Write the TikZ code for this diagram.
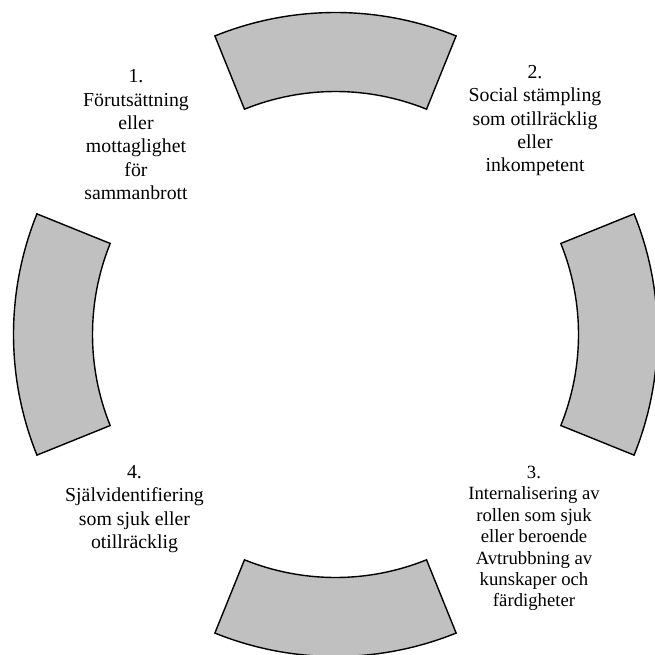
\documentclass[tikz,border=0pt]{standalone}
\usepackage{fontspec}
\setmainfont{Liberation Serif}
\definecolor{sectorgray}{RGB}{192,192,192}
\begin{document}
\begin{tikzpicture}[x=1pt,y=1pt,
  sector/.style={draw=black, fill=sectorgray, line width=1.4pt, line join=miter},
  lab/.style={align=center, anchor=north, inner sep=0pt, font=\fontsize{19.8}{23.3}\selectfont},
  labsmall/.style={align=center, anchor=north, inner sep=0pt, font=\fontsize{18.7}{21.4}\selectfont}]
\useasboundingbox (0,0) rectangle (655,-655);
\clip (0,0) rectangle (655,-655);
\coordinate (c) at (335.5,-334.5);
% four annular sectors
\begin{scope}[shift={(c)}]
  \draw[sector] (68:322) arc (68:112:322) -- (112:243) arc (112:68:243) -- cycle;
  \draw[sector] (-22:322) arc (-22:22:322) -- (22:243) arc (22:-22:243) -- cycle;
  \draw[sector] (248:322) arc (248:292:322) -- (292:243) arc (292:248:243) -- cycle;
  \draw[sector] (158:322) arc (158:202:322) -- (202:243) arc (202:158:243) -- cycle;
\end{scope}
% labels
\node[lab] (l1) at (136,-69.6) {1.\\Förutsättning\\eller\\mottaglighet\\för\\sammanbrott};
\node[lab] (l2) at (535,-65.2) {2.\\Social stämpling\\som otillräcklig\\eller\\inkompetent};
\node[labsmall] (l3) at (534,-466) {3.\\Internalisering av\\rollen som sjuk\\eller beroende\\Avtrubbning av\\kunskaper och\\färdigheter};
\node[lab] (l4) at (134.5,-465.2) {4.\\Självidentifiering\\som sjuk eller\\otillräcklig};
\end{tikzpicture}
\end{document}
